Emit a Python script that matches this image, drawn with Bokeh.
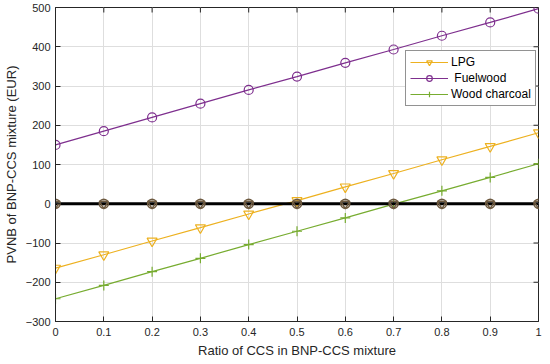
import math
from bokeh.plotting import figure
from bokeh.models import Legend, LegendItem, FixedTicker, Range1d
from bokeh.embed import file_html
from bokeh.resources import INLINE

ratio = [0.0, 0.1, 0.2, 0.3, 0.4, 0.5, 0.6, 0.7, 0.8, 0.9, 1.0]
lpg = [-164, -130, -95, -61, -26, 8, 43, 77, 112, 146, 181]
fuelwood = [150, 185, 220, 255, 290, 324, 359, 393, 428, 462, 497]
wood_charcoal = [-242, -208, -173, -139, -104, -70, -36, -1, 33, 67, 102]
zero_line = [0, 0, 0, 0, 0, 0, 0, 0, 0, 0, 0]
x_ticks = [0, 0.1, 0.2, 0.3, 0.4, 0.5, 0.6, 0.7, 0.8, 0.9, 1]
y_ticks = [-300, -200, -100, 0, 100, 200, 300, 400, 500]

FONT = "Liberation Sans"
X0, X1, Y0, Y1 = 0, 1, -300, 500

p = figure(width=538, height=352, frame_width=483, frame_height=314,
           x_range=Range1d(X0, X1), y_range=Range1d(Y0, Y1),
           output_backend="svg", toolbar_location=None,
           min_border_left=46, min_border_right=7, min_border_top=7, min_border_bottom=30)
p.background_fill_color = "white"
p.border_fill_color = "white"
p.outline_line_color = "#262626"
p.outline_line_width = 1

for ax, ticks in ((p.xaxis[0], x_ticks), (p.yaxis[0], y_ticks)):
    ax.ticker = FixedTicker(ticks=ticks)
    ax.major_tick_in = 5
    ax.major_tick_out = 0
    ax.minor_tick_line_color = None
    ax.axis_line_color = "#262626"
    ax.major_tick_line_color = "#262626"
    ax.major_label_text_font = FONT
    ax.major_label_text_font_size = "11px"
    ax.major_label_text_color = "#262626"
    ax.axis_label_text_font = FONT
    ax.axis_label_text_font_size = "13px"
    ax.axis_label_text_font_style = "normal"
    ax.axis_label_text_color = "#262626"

p.xaxis[0].axis_label = "Ratio of CCS in BNP-CCS mixture"
p.yaxis[0].axis_label = "PVNB of BNP-CCS mixture (EUR)"
p.xaxis[0].axis_label_standoff = 4
p.yaxis[0].axis_label_standoff = 4
p.xaxis[0].major_label_standoff = 6
p.yaxis[0].major_label_standoff = 5

# inward ticks on the top and right edges of the box
p.ray(x=x_ticks, y=[Y1] * len(x_ticks), length=5, length_units="screen",
      angle=-math.pi / 2, line_color="#262626", line_width=1)
p.ray(x=[X1] * len(y_ticks), y=y_ticks, length=5, length_units="screen",
      angle=math.pi, line_color="#262626", line_width=1)

p.xgrid.ticker = FixedTicker(ticks=x_ticks)
p.ygrid.ticker = FixedTicker(ticks=y_ticks)
p.grid.grid_line_color = "#dedede"
p.grid.grid_line_width = 1

C_LPG = "#EDB120"
C_FW = "#7E2F8E"
C_WC = "#77AC30"

l1 = p.line(ratio, lpg, line_color=C_LPG, line_width=1.2)
m1 = p.scatter(ratio, lpg, marker="inverted_triangle", size=10, fill_color=None,
               line_color=C_LPG, line_width=1.2)
l2 = p.line(ratio, fuelwood, line_color=C_FW, line_width=1.2)
m2 = p.scatter(ratio, fuelwood, marker="circle", size=9, fill_color=None,
               line_color=C_FW, line_width=1.2)
l3 = p.line(ratio, wood_charcoal, line_color=C_WC, line_width=1.2)
m3 = p.scatter(ratio, wood_charcoal, marker="cross", size=10,
               line_color=C_WC, line_width=1.2)

p.line(ratio, zero_line, line_color="black", line_width=3)
p.scatter(ratio, zero_line, marker="circle", size=9, fill_color=None,
          line_color="#6e5a40", line_width=1.5)
p.scatter(ratio, zero_line, marker="inverted_triangle", size=9, fill_color=None,
          line_color="#6e5a40", line_width=1.5)

legend = Legend(items=[
    LegendItem(label="LPG", renderers=[l1, m1]),
    LegendItem(label=" Fuelwood", renderers=[l2, m2]),
    LegendItem(label="Wood charcoal", renderers=[l3, m3]),
], location=(350, 215))
legend.border_line_color = "#262626"
legend.border_line_width = 1
legend.background_fill_alpha = 1
legend.label_text_font = FONT
legend.label_text_font_size = "12px"
legend.label_text_color = "black"
legend.glyph_width = 38
legend.glyph_height = 14
legend.label_height = 14
legend.spacing = 2
legend.padding = 4
legend.margin = 0
legend.label_standoff = 3
p.add_layout(legend, "center")

open("out.html", "w").write(file_html(p, INLINE))
